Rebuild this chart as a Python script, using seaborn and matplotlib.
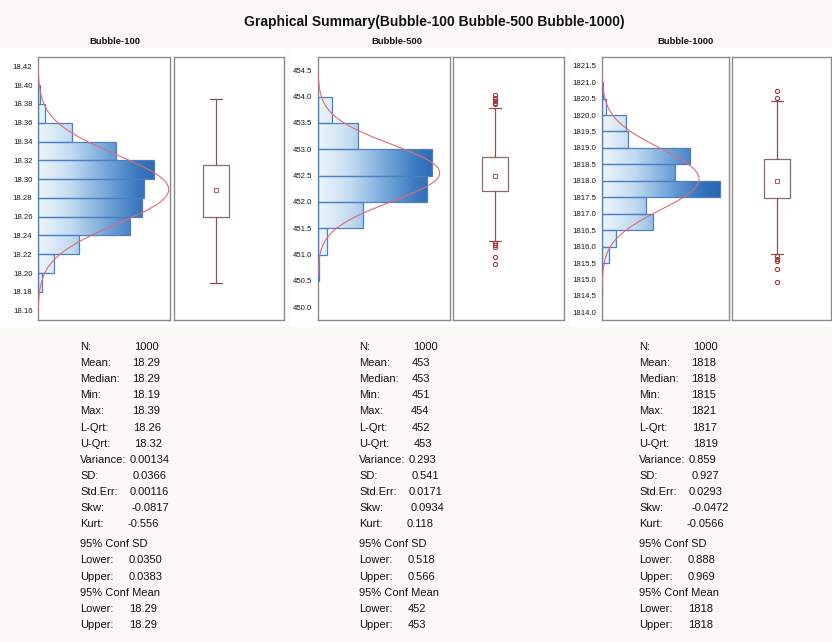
import numpy as np
import pandas as pd
import seaborn as sns
import matplotlib
matplotlib.use("Agg")
import matplotlib.pyplot as plt
from matplotlib.colors import LinearSegmentedColormap
from matplotlib.patches import Rectangle

sns.set_theme(style="white")
plt.rcParams["font.family"] = ["Liberation Sans", "DejaVu Sans"]

# ---------------------------------------------------------------- data
titles = ["Bubble-100", "Bubble-500", "Bubble-1000"]
n_obs = 1000

# histogram bin edges and counts (bottom bin first)
edges_100 = [18.18, 18.20, 18.22, 18.24, 18.26, 18.28, 18.30, 18.32, 18.34, 18.36, 18.38, 18.40]
counts_100 = [6, 27, 68, 153, 174, 177, 194, 130, 56, 12, 3]

edges_500 = [450.5, 451.0, 451.5, 452.0, 452.5, 453.0, 453.5, 454.0]
counts_500 = [2, 26, 135, 330, 344, 121, 42]

edges_1000 = [1814.5, 1815.0, 1815.5, 1816.0, 1816.5, 1817.0, 1817.5, 1818.0,
              1818.5, 1819.0, 1819.5, 1820.0, 1820.5, 1821.0]
counts_1000 = [1, 1, 16, 32, 112, 98, 261, 162, 195, 57, 54, 9, 2]

# fitted normal curve parameters
fit_mean = [18.289, 452.55, 1818.05]
fit_sd = [0.0366, 0.541, 0.927]

# box plot statistics
box_q1 = [18.2595, 452.21, 1817.47]
box_q3 = [18.3149, 452.846, 1818.67]
box_lo = [18.189, 451.25, 1815.77]
box_hi = [18.385, 453.78, 1820.44]
box_mean = [18.288, 452.50, 1817.98]
fliers_100 = []
fliers_500 = [454.02, 453.98, 453.95, 453.92, 453.885, 453.85,
              451.23, 451.19, 451.14, 450.96, 450.82]
fliers_1000 = [1820.72, 1820.52, 1815.70, 1815.62, 1815.56, 1815.31, 1814.91]

# y-axis ticks
ticks_100 = [18.16, 18.18, 18.20, 18.22, 18.24, 18.26, 18.28, 18.30,
             18.32, 18.34, 18.36, 18.38, 18.40, 18.42]
ticks_500 = [450.0, 450.5, 451.0, 451.5, 452.0, 452.5, 453.0, 453.5, 454.0, 454.5]
ticks_1000 = [1814.0, 1814.5, 1815.0, 1815.5, 1816.0, 1816.5, 1817.0, 1817.5,
              1818.0, 1818.5, 1819.0, 1819.5, 1820.0, 1820.5, 1821.0, 1821.5]
tick_fmt = ["{:.2f}", "{:.1f}", "{:.1f}"]

# summary table
stat_labels = ["N:", "Mean:", "Median:", "Min:", "Max:", "L-Qrt:", "U-Qrt:",
               "Variance:", "SD:", "Std.Err:", "Skw:", "Kurt:",
               "95% Conf SD", "Lower:", "Upper:", "95% Conf Mean", "Lower:", "Upper:"]
stats_100 = ["1000", "18.29", "18.29", "18.19", "18.39", "18.26", "18.32",
             "0.00134", "0.0366", "0.00116", "-0.0817", "-0.556",
             "", "0.0350", "0.0383", "", "18.29", "18.29"]
stats_500 = ["1000", "453", "453", "451", "454", "452", "453",
             "0.293", "0.541", "0.0171", "0.0934", "0.118",
             "", "0.518", "0.566", "", "452", "453"]
stats_1000 = ["1000", "1818", "1818", "1815", "1821", "1817", "1819",
              "0.859", "0.927", "0.0293", "-0.0472", "-0.0566",
              "", "0.888", "0.969", "", "1818", "1818"]

# ---------------------------------------------------------------- layout
W, H = 832, 642
fig = plt.figure(figsize=(W / 100, H / 100), dpi=100)
fig.patch.set_facecolor("#faf9f5")


def fx(px):
    return px / W


def fy(py):
    return 1 - py / H


panel_edges = [edges_100, edges_500, edges_1000]
panel_counts = [counts_100, counts_500, counts_1000]
panel_fliers = [fliers_100, fliers_500, fliers_1000]
panel_ticks = [ticks_100, ticks_500, ticks_1000]
panel_stats = [stats_100, stats_500, stats_1000]

ylims = [(18.150, 18.430), (449.76, 454.75), (1813.767, 1821.764)]
xmax = [220.2, 400.0, 281.3]
hist_x = [(38, 170), (318, 450), (602, 729)]
box_x = [(174, 284), (453, 564), (732, 831)]
box_center = [42, 42, 45]
ax_top, ax_bot = 57, 320
title_x = [115, 397, 685]
text_x = [80, 359, 639]
blocks = [(0, 287), (289, 567), (569, 832)]

row_y = [347, 363, 379, 395, 411.5, 428, 444, 460, 476, 492, 508, 524,
         544, 560, 576.5, 593, 609, 625]
val_dx = [54, 52.5, 52.3, 52.3, 51.7, 52.6, 54.4, 50, 52.5, 49.8, 52, 47.6,
          0, 49, 49, 0, 49.2, 49.2]

grad_cmap = LinearSegmentedColormap.from_list(
    "bargrad", ["#eef6fc", "#c2dbf0", "#78aadb", "#3a78c0", "#1f5eab"])
spine_col = "#8a8a8a"
box_col = "#8a6a6a"
whisk_col = "#8c5050"
flier_col = "#a03c3c"

for bx0, bx1 in blocks:
    fig.patches.append(Rectangle((fx(bx0), fy(327)), fx(bx1 - bx0), 279 / H,
                                 transform=fig.transFigure, facecolor="white",
                                 edgecolor="none", zorder=-10))

fig.text(fx(434), fy(22), "Graphical Summary(Bubble-100 Bubble-500 Bubble-1000)",
         ha="center", va="center", fontsize=10, fontweight="bold", color="#111111")

for i in range(3):
    edges = list(panel_edges[i])
    counts = list(panel_counts[i])
    centers = [(a + b) / 2 for a, b in zip(edges[:-1], edges[1:])]
    binw = edges[1] - edges[0]
    df = pd.DataFrame({"value": centers, "count": counts})

    # ---- histogram axes
    x0, x1 = hist_x[i]
    ax = fig.add_axes([fx(x0), fy(ax_bot), fx(x1 - x0), (ax_bot - ax_top) / H])
    ax.set_facecolor("white")
    sns.histplot(data=df, y="value", weights="count", bins=edges, stat="count",
                 ax=ax, edgecolor="#4d7fc3", linewidth=0.9)
    ax.set_xlim(0, xmax[i])
    ax.set_ylim(*ylims[i])
    grad = np.linspace(0, 1, 256).reshape(1, -1)
    for p in list(ax.patches):
        p.set_facecolor("none")
        p.set_alpha(None)
        p.set_edgecolor("#4d7fc3")
        p.set_zorder(3)
        im = ax.imshow(grad, cmap=grad_cmap, aspect="auto", origin="lower",
                       extent=(0, xmax[i], ylims[i][0], ylims[i][1]), zorder=2)
        im.set_clip_path(p)
    ax.set_xlim(0, xmax[i])
    ax.set_ylim(*ylims[i])

    m, s = fit_mean[i], fit_sd[i]
    yy = np.linspace(m - 3.6 * s, m + 3.6 * s, 400)
    dens = n_obs * binw * np.exp(-0.5 * ((yy - m) / s) ** 2) / (s * np.sqrt(2 * np.pi))
    ax.plot(dens, yy, color="#e06a78", lw=0.8, zorder=4)

    ax.set_yticks(panel_ticks[i])
    ax.set_yticklabels([tick_fmt[i].format(t) for t in panel_ticks[i]])
    ax.tick_params(axis="y", length=0, pad=4, labelsize=5.6, labelcolor="#1a1a1a")
    ax.set_xticks([])
    ax.set_xlabel("")
    ax.set_ylabel("")
    for sp in ax.spines.values():
        sp.set_visible(True)
        sp.set_color(spine_col)
        sp.set_linewidth(1.0)

    # ---- box plot axes
    b0, b1 = box_x[i]
    bax = fig.add_axes([fx(b0), fy(ax_bot), fx(b1 - b0), (ax_bot - ax_top) / H])
    bax.set_facecolor("white")
    stats = [dict(med=box_mean[i], q1=box_q1[i], q3=box_q3[i],
                  whislo=box_lo[i], whishi=box_hi[i], mean=box_mean[i],
                  fliers=panel_fliers[i])]
    bax.bxp(stats, positions=[0], widths=1.0, showmeans=True, meanline=False,
            capwidths=0.46, patch_artist=False,
            boxprops=dict(color=box_col, linewidth=0.9),
            whiskerprops=dict(color=whisk_col, linewidth=0.9),
            capprops=dict(color=whisk_col, linewidth=0.9),
            medianprops=dict(linewidth=0),
            meanprops=dict(marker="s", markersize=3.0, markerfacecolor="none",
                           markeredgecolor="#a06868", markeredgewidth=0.8),
            flierprops=dict(marker="o", markersize=3.0, markerfacecolor="none",
                            markeredgecolor=flier_col, markeredgewidth=0.8))
    wpx = b1 - b0
    bax.set_xlim(-box_center[i] / 26, (wpx - box_center[i]) / 26)
    bax.set_ylim(*ylims[i])
    bax.set_xticks([])
    bax.set_yticks([])
    for sp in bax.spines.values():
        sp.set_visible(True)
        sp.set_color(spine_col)
        sp.set_linewidth(1.0)

    fig.text(fx(title_x[i]), fy(42), titles[i], ha="center", va="center",
             fontsize=6.8, fontweight="bold", color="#111111")

    # ---- summary text
    for lab, val, ry, dx in zip(stat_labels, panel_stats[i], row_y, val_dx):
        fig.text(fx(text_x[i]), fy(ry), lab, ha="left", va="center",
                 fontsize=8, color="#111111")
        if val:
            fig.text(fx(text_x[i] + dx), fy(ry), val, ha="left", va="center",
                     fontsize=8, color="#111111")

fig.savefig("out.png", dpi=100, facecolor=fig.get_facecolor())
